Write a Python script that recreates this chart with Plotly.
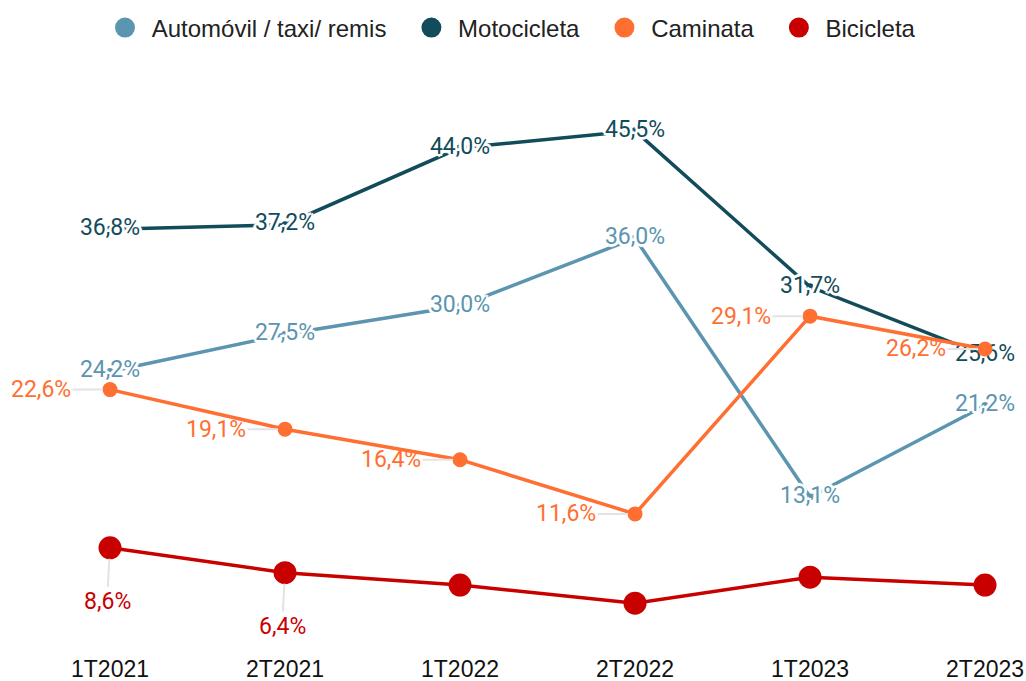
import plotly.graph_objects as go

periods = ["1T2021", "2T2021", "1T2022", "2T2022", "1T2023", "2T2023"]
auto_vals = [24.2, 27.5, 30.0, 36.0, 13.1, 21.2]
moto_vals = [36.8, 37.2, 44.0, 45.5, 31.7, 25.6]
cami_vals = [22.6, 19.1, 16.4, 11.6, 29.1, 26.2]
bici_vals = [8.6, 6.4, 5.3, 3.7, 6.0, 5.3]
bici_labeled = [True, True, False, False, False, False]

names = ["Automóvil / taxi/ remis", "Motocicleta", "Caminata", "Bicicleta"]
colors = ["#5b95b0", "#124c5b", "#ff6f31", "#c80000"]


def fmt(v):
    return f"{v:.1f}".replace(".", ",") + "%"


halo = ("2px 0px 0px white, -2px 0px 0px white, 0px 2px 0px white, 0px -2px 0px white, "
        "2px 2px 0px white, -2px -2px 0px white, 2px -2px 0px white, -2px 2px 0px white, "
        "3px 0px 1px white, -3px 0px 1px white, 0px 3px 1px white, 0px -3px 1px white")

fig = go.Figure()

for vals, name, col in [(auto_vals, names[0], colors[0]), (moto_vals, names[1], colors[1])]:
    fig.add_trace(go.Scatter(
        x=periods, y=vals, mode="lines+markers+text", name=name,
        line=dict(color=col, width=3.5), marker=dict(size=7, color=col),
        text=[fmt(v) for v in vals], textposition="middle center",
        textfont=dict(family="Roboto", size=23, color=col, shadow=halo),
        showlegend=False, hoverinfo="skip", cliponaxis=False,
    ))

fig.add_trace(go.Scatter(
    x=periods, y=cami_vals, mode="lines+markers", name=names[2],
    line=dict(color=colors[2], width=3.5), marker=dict(size=15, color=colors[2]),
    showlegend=False, hoverinfo="skip", cliponaxis=False,
))
fig.add_trace(go.Scatter(
    x=periods, y=bici_vals, mode="lines+markers", name=names[3],
    line=dict(color=colors[3], width=3.5), marker=dict(size=23, color=colors[3]),
    showlegend=False, hoverinfo="skip", cliponaxis=False,
))

nb = "\u00a0"
for i, (name, col) in enumerate(zip(names, colors)):
    trail = nb * 3 if i < len(names) - 1 else ""
    fig.add_trace(go.Scatter(
        x=[None], y=[None], mode="markers", name=nb + name + trail,
        marker=dict(size=16, color=col, symbol="circle", line=dict(color=col, width=4)),
        showlegend=True,
    ))

annotations = []
for p, v in zip(periods, cami_vals):
    annotations.append(dict(
        x=p, y=v, xref="x", yref="y", text=fmt(v), showarrow=True,
        ax=-69, ay=0, arrowhead=0, arrowwidth=2, arrowcolor="#e3e3e3", standoff=7,
        font=dict(family="Roboto", size=23, color=colors[2]),
    ))
for p, v, lab in zip(periods, bici_vals, bici_labeled):
    if lab:
        annotations.append(dict(
            x=p, y=v, xref="x", yref="y", text=fmt(v), showarrow=True,
            ax=-3, ay=54, arrowhead=0, arrowwidth=2, arrowcolor="#e3e3e3", standoff=11,
            font=dict(family="Roboto", size=23, color=colors[3]),
        ))

fig.update_layout(
    width=1026, height=681,
    margin=dict(l=0, r=0, t=80, b=36),
    paper_bgcolor="white", plot_bgcolor="white",
    font=dict(family="Liberation Sans, Arial, sans-serif", color="#222222"),
    legend=dict(orientation="h", x=0.5, xanchor="center", y=1.092, yanchor="middle",
                font=dict(size=24, family="Liberation Sans, Arial, sans-serif", color="#222222"),
                itemsizing="trace"),
    annotations=annotations,
    xaxis=dict(type="category", range=[-0.6286, 5.234], showgrid=False, zeroline=False,
               showline=False, ticks="", ticklabelstandoff=8,
               tickfont=dict(size=23, color="#111111"), fixedrange=True),
    yaxis=dict(range=[0, 50], visible=False, showgrid=False, zeroline=False, fixedrange=True),
)

fig.write_html("out.html", config={"displayModeBar": False},
               post_script="document.body.style.margin='0';")
